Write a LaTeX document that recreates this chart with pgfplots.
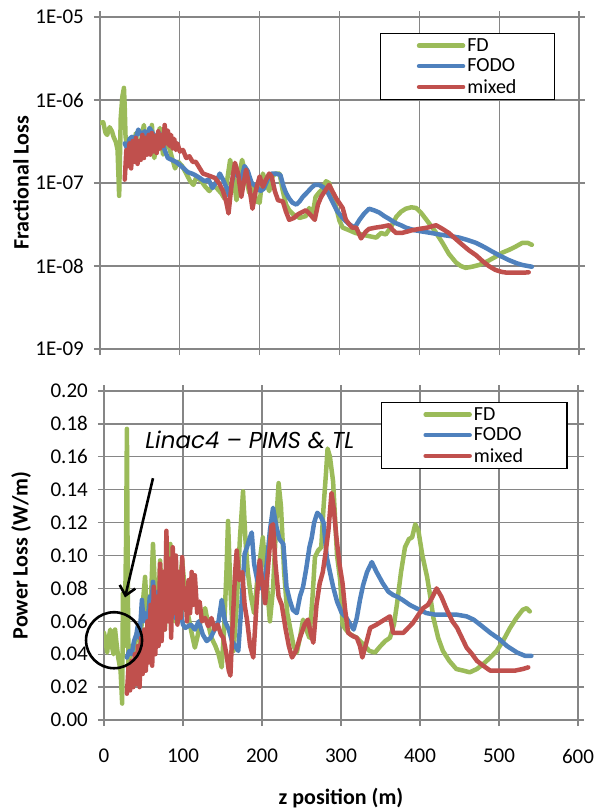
\documentclass[border=0pt]{standalone}
\usepackage{fontspec}
\setmainfont{Carlito}
\newfontfamily\annfont{Poppins}
\usepackage{pgfplots}
\pgfplotsset{compat=1.18}
\usetikzlibrary{arrows.meta}
\definecolor{cFD}{RGB}{155,187,89}
\definecolor{cFODO}{RGB}{79,129,189}
\definecolor{cMix}{RGB}{192,80,77}
\definecolor{gridc}{RGB}{134,134,134}
\pgfplotsset{
 base/.style={
  scale only axis, xmin=0, xmax=600,
  xtick={0,100,...,600},
  grid=major, major grid style={gridc, line width=1.3bp},
  axis line style={gridc, line width=1.3bp},
  tick style={gridc, line width=1.3bp},
  tick align=outside, major tick length=6bp,
  every tick label/.append style={font=\fontsize{21bp}{25bp}\selectfont},
  yticklabel style={inner sep=0pt, xshift=-10bp},
  xticklabel style={inner sep=0pt, yshift=-23bp},
  label style={font=\bfseries\fontsize{22bp}{25bp}\selectfont},
  legend cell align=left,
  legend style={draw=black, line width=1.2bp, font=\fontsize{20bp}{23bp}\selectfont, inner ysep=3bp, row sep=2bp, anchor=north west},
  legend image code/.code={\draw[#1, line width=4.5bp, line cap=round] (0bp,0bp) -- (44bp,0bp);},
  every axis plot/.append style={line width=4.5bp, line join=round, line cap=round, mark=none},
  clip mode=individual,
 }
}
\begin{document}
\begin{tikzpicture}
\useasboundingbox (0bp,0bp) rectangle (597bp,-809bp);
% ---------------- top axis ----------------
\begin{axis}[base, at={(100bp,-17bp)}, anchor=north west,
  width=479bp, height=332bp,
  ymode=log, ymin=1e-9, ymax=1e-5, yminorticks=false,
  ytick={1e-9,1e-8,1e-7,1e-6,1e-5},
  yticklabels={1E-09,1E-08,1E-07,1E-06,1E-05},
  xticklabels={},
  ylabel={Fractional Loss},
  ylabel style={at={(axis description cs:-0.165,0.5)}, anchor=center},
  legend style={at={(0.585,0.952)}, inner xsep=36bp},
]
\addplot[cFD] coordinates {(0,5.3e-7)(4,5.4e-7)(7,4.0e-7)(9,3.8e-7)(12,4.7e-7)(15,4.2e-7)(17,3.6e-7)(20,3.1e-7)(22,2.5e-7)(24,7e-8)(26,6.2e-7)(28,1.1e-6)(30,1.4e-6)(31,8e-7)(32,3.6e-7)(35,2.5e-7)(38,1.6e-7)(42,2.8e-7)(45,4e-7)(48,2e-7)(52,3.5e-7)(55,5e-7)(58,2.2e-7)(62,3e-7)(65,5e-7)(68,2e-7)(72,3.5e-7)(75,4.6e-7)(79,2.2e-7)(83,3.3e-7)(87,2.6e-7)(91,1.9e-7)(94,1.5e-7)(98,1.8e-7)(103,1.6e-7)(108,1.3e-7)(113,1.05e-7)(117,9.5e-8)(121,1.2e-7)(127,1.05e-7)(132,9e-8)(137,8e-8)(142,9.5e-8)(147,8.5e-8)(152,7.5e-8)(156,6.5e-8)(160,1.2e-7)(163,1.9e-7)(167,1.2e-7)(171,6.2e-8)(174,1.2e-7)(178,1.9e-7)(182,1.3e-7)(187,7.6e-8)(191,1e-7)(196,6e-8)(200,5.8e-8)(204,1.3e-7)(208,1e-7)(212,8e-8)(216,1.2e-7)(220,1.3e-7)(225,1.3e-7)(229,8e-8)(233,5.5e-8)(237,4.7e-8)(242,4.2e-8)(250,3.8e-8)(258,4e-8)(262,5e-8)(266,4e-8)(270,6.8e-8)(275,7.8e-8)(279,8.5e-8)(283,1.05e-7)(287,1e-7)(292,7e-8)(296,5e-8)(300,3.5e-8)(304,2.9e-8)(312,2.7e-8)(320,2.5e-8)(328,2.4e-8)(336,2.3e-8)(346,2.2e-8)(352,2.5e-8)(358,2.4e-8)(365,3e-8)(371,3.9e-8)(377,4.5e-8)(383,4.9e-8)(390,5.1e-8)(396,5e-8)(402,4.4e-8)(408,3.7e-8)(414,3.1e-8)(420,2.6e-8)(429,1.9e-8)(437,1.4e-8)(446,1.1e-8)(452,1e-8)(458,9.5e-9)(466,9.8e-9)(475,1.03e-8)(486,1.15e-8)(496,1.3e-8)(504,1.45e-8)(512,1.56e-8)(520,1.7e-8)(529,1.9e-8)(536,1.9e-8)(541,1.8e-8)};
\addlegendentry{FD}
\addplot[cFODO] coordinates {(31,3e-7)(34,2.6e-7)(37,3.4e-7)(40,3.6e-7)(44,3.3e-7)(48,4.4e-7)(52,3.8e-7)(56,4.2e-7)(60,3.5e-7)(62,4.6e-7)(66,4e-7)(70,3.5e-7)(74,4e-7)(77,3.6e-7)(81,2.5e-7)(85,2e-7)(90,1.9e-7)(95,1.8e-7)(100,1.65e-7)(105,1.5e-7)(110,1.35e-7)(115,1.3e-7)(119,1.25e-7)(125,1.15e-7)(131,1.05e-7)(136,1.1e-7)(141,8.7e-8)(146,1.05e-7)(150,1.3e-7)(154,1.1e-7)(158,9e-8)(162,7e-8)(166,1.1e-7)(169,1.45e-7)(173,1.2e-7)(177,1.1e-7)(181,1.6e-7)(185,1.4e-7)(190,1e-7)(196,9e-8)(201,8e-8)(205,8.5e-8)(210,1.1e-7)(215,1.3e-7)(220,1.3e-7)(226,1.25e-7)(230,9e-8)(233,7.6e-8)(237,6.5e-8)(241,5.8e-8)(246,5.5e-8)(250,6e-8)(254,6.8e-8)(260,7.8e-8)(265,8.8e-8)(269,9.5e-8)(274,9.5e-8)(279,9e-8)(285,7.8e-8)(291,6e-8)(297,4.6e-8)(302,4e-8)(306,3.6e-8)(312,3.2e-8)(319,2.9e-8)(325,3.6e-8)(331,4.3e-8)(337,4.9e-8)(343,4.7e-8)(350,4.4e-8)(356,4e-8)(362,3.7e-8)(370,3.3e-8)(377,3.1e-8)(383,2.9e-8)(394,2.7e-8)(404,2.6e-8)(415,2.5e-8)(425,2.4e-8)(438,2.3e-8)(450,2.2e-8)(461,2.05e-8)(471,1.9e-8)(481,1.7e-8)(491,1.5e-8)(501,1.33e-8)(512,1.18e-8)(522,1.08e-8)(529,1.03e-8)(536,1.0e-8)(541,9.8e-9)};
\addlegendentry{FODO}
\addplot[cMix] coordinates {(31,1.1e-7)(33,2.5e-7)(35,1.6e-7)(37,3e-7)(39,1.5e-7)(41,3.2e-7)(43,1.8e-7)(45,3.5e-7)(47,1.7e-7)(49,3.2e-7)(51,1.9e-7)(53,3.8e-7)(55,2e-7)(57,3.5e-7)(59,2.2e-7)(61,3.8e-7)(63,2.2e-7)(65,4e-7)(67,2.4e-7)(69,3.7e-7)(71,2.3e-7)(73,4.2e-7)(75,2.6e-7)(77,3.8e-7)(79,2.8e-7)(81,5e-7)(83,3e-7)(85,4.3e-7)(87,2.8e-7)(89,3.8e-7)(91,2.6e-7)(93,3.4e-7)(95,2.5e-7)(97,3e-7)(100,2.4e-7)(104,2.5e-7)(108,2e-7)(112,2.1e-7)(116,1.8e-7)(120,1.8e-7)(125,1.5e-7)(129,1.3e-7)(134,1.25e-7)(139,1.2e-7)(144,1.15e-7)(149,1e-7)(154,8e-8)(158,6e-8)(161,4.3e-8)(165,1e-7)(169,1.75e-7)(173,1.3e-7)(177,6.8e-8)(180,1e-7)(183,1.45e-7)(187,9e-8)(191,4.9e-8)(195,8e-8)(200,1.2e-7)(204,9e-8)(208,1.1e-7)(212,1.3e-7)(215,1.2e-7)(219,8e-8)(223,6.2e-8)(229,6e-8)(233,4.5e-8)(237,3.6e-8)(243,3.8e-8)(248,4.2e-8)(254,4.5e-8)(258,4.7e-8)(263,4.2e-8)(269,3.6e-8)(273,5.5e-8)(277,6.8e-8)(281,7.8e-8)(287,9.5e-8)(291,8e-8)(296,6.5e-8)(300,5.7e-8)(304,5e-8)(308,3.6e-8)(312,3.2e-8)(316,2.9e-8)(321,2.9e-8)(327,2.15e-8)(333,2.6e-8)(337,2.8e-8)(345,2.9e-8)(355,3e-8)(362,3.1e-8)(367,2.7e-8)(371,2.5e-8)(378,2.5e-8)(385,2.6e-8)(391,2.7e-8)(400,2.8e-8)(410,2.9e-8)(421,3.1e-8)(429,2.8e-8)(437,2.5e-8)(446,2.1e-8)(454,1.8e-8)(462,1.55e-8)(471,1.35e-8)(479,1.15e-8)(487,1.0e-8)(495,9e-9)(503,8.5e-9)(510,8.3e-9)(520,8.3e-9)(530,8.3e-9)(537,8.4e-9)};
\addlegendentry{mixed}
\end{axis}
% ---------------- bottom axis ----------------
\begin{axis}[base, at={(104bp,-391bp)}, anchor=north west,
  width=474bp, height=329bp,
  ymin=0, ymax=0.2,
  ytick={0,0.02,...,0.2001},
  yticklabels={0.00,0.02,0.04,0.06,0.08,0.10,0.12,0.14,0.16,0.18,0.20},
  xticklabels={0,100,200,300,400,500,600},
  ylabel={Power Loss (W/m)},
  ylabel style={at={(axis description cs:-0.175,0.5)}, anchor=center},
  xlabel={z position (m)},
  xlabel style={at={(axis description cs:0.5,-0.237)}, anchor=center},
  legend style={at={(0.584,0.967)}, inner xsep=42bp},
]
\addplot[cFD] coordinates {(0,0.053)(2,0.048)(4,0.041)(6,0.050)(8,0.055)(10,0.045)(12,0.040)(14,0.055)(16,0.046)(18,0.038)(21,0.030)(23,0.010)(24,0.077)(26,0.045)(28,0.110)(29,0.177)(30,0.090)(31,0.032)(34,0.045)(37,0.040)(40,0.050)(43,0.055)(46,0.045)(49,0.070)(52,0.087)(55,0.060)(58,0.045)(60,0.080)(62,0.107)(65,0.075)(68,0.060)(71,0.097)(74,0.070)(77,0.055)(80,0.080)(84,0.107)(87,0.080)(90,0.060)(94,0.075)(99,0.097)(103,0.075)(106,0.065)(110,0.055)(115,0.044)(118,0.050)(122,0.060)(128,0.068)(132,0.058)(136,0.050)(141,0.045)(145,0.040)(149,0.032)(152,0.055)(155,0.090)(157,0.121)(160,0.080)(164,0.042)(168,0.070)(172,0.110)(176,0.139)(179,0.110)(182,0.090)(186,0.075)(190,0.065)(194,0.085)(198,0.100)(201,0.111)(205,0.090)(210,0.060)(214,0.080)(218,0.120)(221,0.144)(224,0.130)(228,0.090)(232,0.065)(236,0.055)(240,0.045)(244,0.041)(248,0.050)(252,0.061)(256,0.055)(260,0.050)(264,0.075)(267,0.099)(271,0.103)(275,0.105)(278,0.130)(281,0.150)(283,0.165)(286,0.160)(290,0.145)(295,0.100)(299,0.085)(302,0.058)(306,0.055)(312,0.052)(320,0.050)(328,0.046)(336,0.042)(343,0.041)(350,0.045)(356,0.048)(362,0.050)(367,0.058)(371,0.071)(376,0.090)(381,0.105)(386,0.110)(390,0.111)(394,0.119)(398,0.115)(403,0.100)(409,0.087)(413,0.075)(417,0.062)(423,0.050)(429,0.042)(437,0.036)(446,0.031)(455,0.030)(463,0.029)(472,0.031)(480,0.034)(489,0.038)(497,0.042)(505,0.048)(514,0.056)(522,0.062)(530,0.067)(535,0.068)(539,0.066)};
\addlegendentry{FD}
\addplot[cFODO] coordinates {(29,0.038)(32,0.042)(35,0.040)(38,0.048)(41,0.052)(43,0.058)(45,0.050)(48,0.073)(50,0.060)(52,0.065)(55,0.058)(58,0.075)(60,0.068)(62,0.084)(65,0.070)(68,0.078)(72,0.065)(75,0.080)(80,0.065)(85,0.075)(90,0.062)(95,0.070)(100,0.058)(103,0.056)(110,0.058)(115,0.055)(120,0.060)(125,0.052)(130,0.048)(135,0.050)(140,0.055)(145,0.060)(149,0.073)(153,0.060)(158,0.055)(162,0.048)(166,0.045)(170,0.042)(174,0.070)(178,0.101)(181,0.105)(184,0.110)(187,0.114)(190,0.095)(194,0.085)(198,0.080)(202,0.081)(206,0.095)(210,0.115)(214,0.129)(218,0.118)(222,0.110)(227,0.107)(231,0.081)(235,0.073)(239,0.067)(244,0.065)(248,0.075)(252,0.081)(256,0.092)(260,0.105)(263,0.111)(266,0.120)(270,0.126)(274,0.124)(278,0.120)(282,0.099)(286,0.090)(290,0.081)(295,0.072)(301,0.065)(307,0.062)(312,0.058)(316,0.055)(320,0.062)(324,0.073)(328,0.082)(333,0.090)(339,0.096)(345,0.090)(353,0.083)(360,0.078)(366,0.076)(371,0.075)(378,0.073)(387,0.070)(395,0.068)(408,0.065)(420,0.064)(434,0.064)(447,0.064)(459,0.063)(468,0.061)(476,0.058)(489,0.053)(501,0.049)(510,0.045)(523,0.041)(533,0.039)(541,0.039)};
\addlegendentry{FODO}
\addplot[cMix] coordinates {(29,0.016)(31,0.032)(33,0.018)(35,0.036)(37,0.020)(39,0.040)(41,0.022)(43,0.045)(45,0.020)(47,0.050)(49,0.028)(51,0.055)(53,0.030)(55,0.060)(57,0.035)(59,0.070)(61,0.033)(63,0.081)(65,0.040)(67,0.075)(69,0.045)(71,0.095)(73,0.048)(75,0.090)(77,0.055)(79,0.115)(81,0.060)(83,0.098)(85,0.050)(87,0.105)(89,0.065)(91,0.100)(93,0.058)(95,0.090)(97,0.062)(99,0.099)(101,0.068)(103,0.080)(105,0.060)(107,0.085)(109,0.065)(111,0.090)(113,0.070)(115,0.088)(118,0.065)(121,0.072)(124,0.060)(128,0.062)(132,0.057)(136,0.062)(140,0.055)(144,0.058)(148,0.052)(151,0.050)(155,0.040)(158,0.030)(160,0.027)(163,0.060)(166,0.090)(168,0.103)(171,0.085)(175,0.090)(178,0.070)(181,0.061)(185,0.045)(189,0.038)(193,0.070)(197,0.097)(200,0.085)(204,0.071)(208,0.095)(212,0.118)(214,0.119)(217,0.095)(221,0.075)(225,0.070)(230,0.055)(234,0.045)(238,0.038)(243,0.042)(248,0.050)(254,0.058)(258,0.061)(262,0.052)(265,0.047)(269,0.070)(273,0.083)(277,0.090)(280,0.100)(284,0.115)(288,0.138)(291,0.128)(294,0.112)(298,0.095)(302,0.083)(305,0.068)(309,0.053)(315,0.051)(320,0.050)(324,0.045)(327,0.038)(331,0.045)(337,0.056)(345,0.058)(355,0.061)(362,0.063)(366,0.053)(372,0.053)(379,0.053)(385,0.056)(391,0.059)(398,0.064)(404,0.068)(410,0.070)(415,0.074)(421,0.080)(427,0.075)(434,0.067)(441,0.060)(447,0.056)(453,0.050)(459,0.044)(466,0.040)(472,0.036)(480,0.033)(489,0.030)(500,0.030)(510,0.030)(520,0.030)(530,0.031)(537,0.032)};
\addlegendentry{mixed}
\draw[black, line width=2.6bp, -{Straight Barb[length=9bp,width=16bp]}] (axis cs:62,0.147) -- (axis cs:26.6,0.0745);
\draw[black, line width=2.6bp] (axis cs:12.7,0.0485) circle[radius=28bp];
\node[anchor=base west, inner sep=0pt, font=\annfont\itshape\fontsize{23bp}{27bp}\selectfont] at (axis cs:52,0.165) {Linac4 – PIMS \& TL};
\end{axis}
\end{tikzpicture}
\end{document}
